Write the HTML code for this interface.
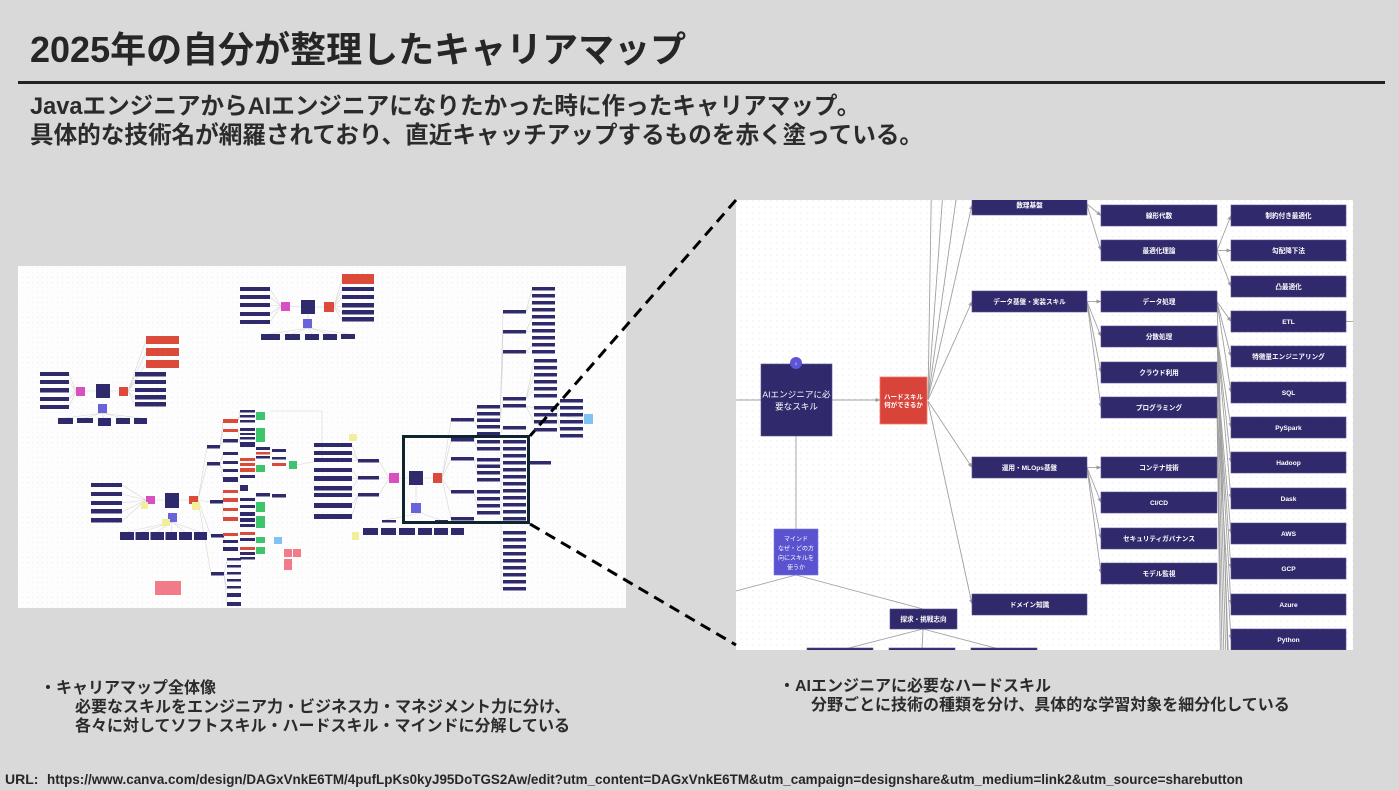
<!DOCTYPE html>
<html><head><meta charset="utf-8">
<style>
html,body{margin:0;padding:0;}
body{width:1399px;height:790px;background:#d9d9d9;position:relative;overflow:hidden;font-family:"Liberation Sans","Noto Sans CJK JP",sans-serif;color:#262626;}
.t{position:absolute;white-space:nowrap;font-weight:bold;}
svg{position:absolute;left:0;top:0;}
</style></head><body>
<svg width="1399" height="790" viewBox="0 0 1399 790" xmlns="http://www.w3.org/2000/svg">
<defs>
<pattern id="dots" width="6" height="6" patternUnits="userSpaceOnUse"><circle cx="3" cy="3" r="0.6" fill="#e3e3e3"/></pattern>
<pattern id="dots2" width="5" height="5" patternUnits="userSpaceOnUse"><circle cx="2.5" cy="2.5" r="0.5" fill="#ececec"/></pattern>
<clipPath id="rp"><rect x="736" y="200" width="617" height="450"/></clipPath>
<marker id="ar" markerWidth="5" markerHeight="5" refX="4.5" refY="2.5" orient="auto" markerUnits="userSpaceOnUse"><path d="M0,0.5 L5,2.5 L0,4.5 z" fill="#9a9a9a"/></marker>
</defs>

<!-- mini map panel -->
<rect x="18" y="266" width="608" height="342" fill="#fdfdfd"/>
<rect x="18" y="266" width="608" height="342" fill="url(#dots2)"/>
<g stroke="#d6d6d6" stroke-width="0.6" fill="none">
<path d="M281,306 L270,289 M281,306 L270,297 M281,306 L270,305 M281,306 L270,314 M281,306 L270,322 M290,306 L301,307 M315,307 L324,307 M334,307 L342,279 M334,307 L342,289 M334,307 L342,297 M334,307 L342,306 M334,307 L342,313 M334,307 L342,320 M308,314 L308,319 M308,328 L270,334 M308,328 L292,334 M308,328 L312,334 M308,328 L330,334 M308,328 L348,334"/>
<path d="M76,391 L69,374 M76,391 L69,382 M76,391 L69,391 M76,391 L69,399 M76,391 L69,407 M85,391 L96,391 M110,391 L119,391 M128,391 L146,340 M128,391 L146,352 M128,391 L146,364 M128,391 L135,375 M128,391 L135,382 M128,391 L135,390 M128,391 L135,398 M128,391 L135,405 M102,413 L65,418 M102,413 L85,418 M102,413 L104,418 M102,413 L123,418 M102,413 L140,418"/>
<path d="M146,500 L122,485 M146,500 L122,494 M146,500 L122,503 M146,500 L122,512 M146,500 L122,521 M155,500 L165,500 M179,500 L189,500 M198,500 L207,447 M198,500 L207,464 M198,500 L210,502 M198,500 L211,536 M198,500 L211,574 M172,522 L127,532 M172,522 L142,532 M172,522 L157,532 M172,522 L171,532 M172,522 L185,532 M172,522 L200,532"/>
<path d="M220,447 L223,421 M220,447 L223,431 M220,447 L223,441 M220,464 L223,454 M220,464 L223,463 M220,464 L223,471 M220,464 L223,480 M223,502 L223,492 M223,502 L223,500 M223,502 L223,510 M223,502 L223,519 M224,536 L224,542 M224,536 L224,549 M224,574 L227,560 M224,574 L227,575 M224,574 L227,590 M224,574 L227,604 M238,421 L240,411 M238,421 L240,416 M238,431 L240,430 M238,431 L240,444 M270,411 L322,411 L322,460 L297,465"/>
<path d="M389,478 L379,461 M389,478 L379,478 M389,478 L379,495 M358,461 L352,445 M358,461 L352,453 M358,461 L352,460 M358,478 L352,470 M358,478 L352,479 M358,478 L352,489 M358,495 L352,495 M358,495 L352,505 M358,495 L352,516 M399,478 L409,478 M423,478 L433,478 M442,478 L451,420 M442,478 L451,440 M442,478 L451,459 M442,478 L451,492 M442,478 L451,519 M416,485 L416,503 M421,513 L385,520 M421,513 L440,520 M474,420 L477,407 M474,420 L477,427 M474,440 L477,434 M474,440 L477,449 M474,459 L477,460 M474,459 L477,473 M474,492 L477,492 M474,492 L477,506 M500,420 L503,312 M500,420 L503,332 M500,420 L503,352 M500,420 L503,399 M500,434 L503,428 M501,440 L501,590 M526,312 L532,289 M526,312 L532,303 M526,332 L532,317 M526,332 L532,331 M526,352 L532,345 M526,352 L532,352 M526,399 L534,361 M526,399 L534,375 M526,399 L534,389 M526,406 L534,408 M526,406 L534,422 M557,415 L560,401 M557,415 L560,415 M557,415 L560,429 M557,415 L584,419"/>
</g>
<g fill="#2f2a6c">
<rect x="240" y="287" width="30" height="4"/><rect x="240" y="295" width="30" height="4"/><rect x="240" y="303" width="30" height="4"/><rect x="240" y="312" width="30" height="4"/><rect x="240" y="320" width="30" height="4"/>
<rect x="301" y="300" width="14" height="14"/>
<rect x="261" y="334" width="19" height="6"/><rect x="285" y="334" width="15" height="6"/><rect x="305" y="334" width="14" height="6"/><rect x="323" y="334" width="14" height="6"/><rect x="341" y="334" width="14" height="5"/>
<rect x="342" y="287" width="32" height="4"/><rect x="342" y="295" width="32" height="4"/><rect x="342" y="303" width="32" height="4.5"/><rect x="342" y="310" width="32" height="4.5"/><rect x="342" y="317" width="32" height="4.5"/>
<rect x="40" y="372" width="29" height="4"/><rect x="40" y="380" width="29" height="4"/><rect x="40" y="388" width="29" height="4.5"/><rect x="40" y="397" width="29" height="4"/><rect x="40" y="405" width="29" height="4"/>
<rect x="96" y="384" width="14" height="14"/>
<rect x="58" y="418" width="15" height="6"/><rect x="77" y="418" width="16" height="5"/><rect x="98" y="418" width="13" height="8"/><rect x="116" y="418" width="14" height="6"/><rect x="134" y="418" width="13" height="6"/>
<rect x="135" y="372" width="31" height="4.5"/><rect x="135" y="380" width="31" height="4"/><rect x="135" y="388" width="31" height="4"/><rect x="135" y="395" width="31" height="4.5"/><rect x="135" y="402" width="31" height="4.5"/>
<rect x="91" y="483" width="31" height="4"/><rect x="91" y="492" width="31" height="4"/><rect x="91" y="501" width="31" height="4"/><rect x="91" y="509" width="31" height="4.5"/><rect x="91" y="518" width="31" height="4.5"/>
<rect x="165" y="493" width="14" height="15"/>
<rect x="120" y="532" width="14" height="8"/><rect x="135.5" y="532" width="13.5" height="8"/><rect x="150.5" y="532" width="13.5" height="8"/><rect x="165.5" y="532" width="11.5" height="8"/><rect x="179" y="532" width="13" height="8"/><rect x="194" y="532" width="13" height="8"/>
<rect x="207" y="445" width="13" height="3.5"/><rect x="207" y="462" width="13" height="3.5"/><rect x="210" y="500" width="13" height="3.5"/><rect x="211" y="534" width="13" height="3.5"/><rect x="211" y="572" width="13" height="3.5"/>
<rect x="223" y="439" width="15" height="3.5"/><rect x="223" y="452" width="15" height="3"/><rect x="223" y="461" width="15" height="3"/><rect x="223" y="469" width="15" height="3"/><rect x="223" y="477" width="15" height="5"/><rect x="223" y="540" width="15" height="3"/><rect x="223" y="547" width="15" height="4"/>
<rect x="240" y="410" width="15" height="2.5"/><rect x="240" y="415" width="15" height="2.5"/><rect x="240" y="420" width="15" height="2.5"/><rect x="240" y="428" width="15" height="3"/><rect x="240" y="433" width="15" height="2"/><rect x="240" y="437" width="15" height="2.5"/><rect x="240" y="442" width="15" height="5"/><rect x="240" y="475" width="15" height="3"/><rect x="240" y="485" width="8" height="6"/><rect x="240" y="498" width="15" height="3"/><rect x="240" y="505" width="15" height="3"/><rect x="240" y="512" width="15" height="4"/><rect x="240" y="518" width="15" height="4"/><rect x="240" y="524" width="15" height="3"/><rect x="240" y="538" width="15" height="3"/><rect x="240" y="552" width="15" height="3"/><rect x="240" y="557" width="15" height="2.5"/>
<rect x="256" y="447" width="14" height="3"/><rect x="256" y="456" width="14" height="2.5"/><rect x="256" y="493" width="14" height="3.5"/>
<rect x="272" y="449" width="14" height="3"/><rect x="272" y="457" width="14" height="2.5"/><rect x="272" y="494" width="14" height="3.5"/>
<rect x="227" y="558" width="14" height="2.5"/><rect x="227" y="565" width="14" height="2.5"/><rect x="227" y="572" width="14" height="2.5"/><rect x="227" y="579" width="14" height="2.5"/><rect x="227" y="586" width="14" height="2.5"/><rect x="227" y="593" width="14" height="4"/><rect x="227" y="602" width="14" height="4"/>
<rect x="314" y="443" width="38" height="4"/><rect x="314" y="451" width="38" height="4"/><rect x="314" y="458" width="38" height="4"/><rect x="314" y="468" width="38" height="4"/><rect x="314" y="476" width="38" height="5"/><rect x="314" y="486" width="38" height="4.5"/><rect x="314" y="493" width="38" height="4"/><rect x="314" y="503" width="38" height="5"/><rect x="314" y="514" width="38" height="5"/>
<rect x="358" y="459" width="21" height="3.5"/><rect x="358" y="476" width="21" height="3.5"/><rect x="358" y="493" width="21" height="3.5"/>
<rect x="382" y="520" width="14" height="2.5"/><rect x="435" y="520" width="13" height="2.5"/>
<rect x="363" y="528" width="15" height="7"/><rect x="381" y="528" width="15" height="7"/><rect x="399" y="528" width="16" height="7"/><rect x="418" y="528" width="14" height="7"/><rect x="434" y="528" width="14" height="7"/><rect x="451" y="528" width="13" height="7"/>
<rect x="409" y="471" width="14" height="14"/>
<rect x="451" y="418" width="23" height="3.5"/><rect x="451" y="438" width="23" height="3.5"/><rect x="451" y="457" width="23" height="3.5"/><rect x="451" y="490" width="23" height="3.5"/><rect x="451" y="517" width="23" height="3.5"/>
<rect x="477" y="405" width="23" height="3.5"/><rect x="477" y="412" width="23" height="3.5"/><rect x="477" y="418.5" width="23" height="3.5"/><rect x="477" y="425" width="23" height="3.5"/><rect x="477" y="432" width="23" height="3.5"/><rect x="477" y="440" width="23" height="3.5"/><rect x="477" y="447" width="23" height="3.5"/><rect x="477" y="458" width="23" height="3.5"/><rect x="477" y="464.5" width="23" height="3.5"/><rect x="477" y="471" width="23" height="3.5"/><rect x="477" y="478" width="23" height="3.5"/><rect x="477" y="490" width="23" height="3.5"/><rect x="477" y="497" width="23" height="3.5"/><rect x="477" y="504" width="23" height="3.5"/><rect x="477" y="511" width="23" height="3.5"/>
<rect x="503" y="310" width="23" height="3.5"/><rect x="503" y="330" width="23" height="3.5"/><rect x="503" y="350" width="23" height="3.5"/><rect x="503" y="397" width="23" height="3.5"/><rect x="503" y="404" width="23" height="3.5"/><rect x="503" y="426" width="23" height="3.5"/><rect x="503" y="440" width="23" height="3.5"/><rect x="503" y="447" width="23" height="3.5"/><rect x="503" y="454" width="23" height="3.5"/><rect x="503" y="461" width="23" height="3.5"/><rect x="503" y="468" width="23" height="3.5"/><rect x="503" y="475" width="23" height="3.5"/><rect x="503" y="482" width="23" height="3.5"/><rect x="503" y="489" width="23" height="3.5"/><rect x="503" y="496" width="23" height="3.5"/><rect x="503" y="503" width="23" height="3.5"/><rect x="503" y="510" width="23" height="3.5"/><rect x="503" y="517" width="23" height="3.5"/><rect x="503" y="531" width="23" height="3.5"/><rect x="503" y="538" width="23" height="3.5"/><rect x="503" y="545" width="23" height="3.5"/><rect x="503" y="552" width="23" height="3.5"/><rect x="503" y="559" width="23" height="3.5"/><rect x="503" y="566" width="23" height="3.5"/><rect x="503" y="573" width="23" height="3.5"/><rect x="503" y="580" width="23" height="3.5"/><rect x="503" y="587" width="23" height="3.5"/>
<rect x="532" y="287" width="23" height="3.5"/><rect x="532" y="294" width="23" height="3.5"/><rect x="532" y="301" width="23" height="3.5"/><rect x="532" y="308" width="23" height="3.5"/><rect x="532" y="315" width="23" height="3.5"/><rect x="532" y="322" width="23" height="3.5"/><rect x="532" y="329" width="23" height="3.5"/><rect x="532" y="336" width="23" height="3.5"/><rect x="532" y="343" width="23" height="3.5"/><rect x="532" y="350" width="23" height="3.5"/>
<rect x="534" y="359" width="23" height="3.5"/><rect x="534" y="366" width="23" height="3.5"/><rect x="534" y="373" width="23" height="3.5"/><rect x="534" y="380" width="23" height="3.5"/><rect x="534" y="387" width="23" height="3.5"/><rect x="534" y="394" width="23" height="3.5"/>
<rect x="534" y="406" width="23" height="3.5"/><rect x="534" y="413" width="23" height="3.5"/><rect x="534" y="420" width="23" height="3.5"/><rect x="534" y="428" width="23" height="3.5"/>
<rect x="560" y="399" width="23" height="3.5"/><rect x="560" y="406" width="23" height="3.5"/><rect x="560" y="413" width="23" height="3.5"/><rect x="560" y="420" width="23" height="3.5"/><rect x="560" y="427" width="23" height="3.5"/><rect x="560" y="434" width="23" height="3.5"/>
<rect x="529" y="461" width="22" height="3.5"/>
</g>
<g fill="#dc4a3a">
<rect x="324" y="302" width="10" height="10"/><rect x="342" y="274" width="32" height="10"/>
<rect x="119" y="387" width="9" height="9"/><rect x="146" y="336" width="33" height="8"/><rect x="146" y="348" width="33" height="8"/><rect x="146" y="360" width="33" height="8"/>
<rect x="189" y="496" width="9" height="8"/>
<rect x="223" y="419" width="15" height="4"/><rect x="223" y="429" width="15" height="3"/><rect x="223" y="490" width="15" height="3"/><rect x="223" y="498" width="15" height="4"/><rect x="223" y="508" width="15" height="3"/><rect x="223" y="517" width="15" height="4"/><rect x="223" y="533" width="15" height="3"/>
<rect x="240" y="458" width="15" height="3"/><rect x="240" y="463" width="15" height="3"/><rect x="240" y="468" width="15" height="4"/><rect x="240" y="532" width="15" height="3"/><rect x="240" y="547" width="15" height="3"/>
<rect x="256" y="452" width="14" height="2.5"/><rect x="272" y="463" width="14" height="3"/>
<rect x="433" y="473" width="9" height="10"/>
</g>
<g fill="#d94fc0"><rect x="281" y="302" width="9" height="9"/><rect x="76" y="387" width="9" height="9"/><rect x="146" y="496" width="9" height="8"/><rect x="389" y="473" width="10" height="10"/></g>
<g fill="#6a62d8"><rect x="303" y="319" width="9" height="9"/><rect x="98" y="404" width="9" height="9"/><rect x="168" y="513" width="9" height="9"/><rect x="411" y="503" width="10" height="10"/></g>
<g fill="#f3ee9a"><rect x="141" y="502" width="7" height="7"/><rect x="162" y="519" width="8" height="7"/><rect x="192" y="502" width="8" height="8"/><rect x="349" y="434" width="8" height="7"/><rect x="352" y="532" width="7" height="8"/></g>
<g fill="#3fc46e"><rect x="256" y="412" width="9" height="8"/><rect x="256" y="428" width="9" height="14"/><rect x="256" y="465" width="9" height="7"/><rect x="256" y="502" width="9" height="10"/><rect x="256" y="516" width="9" height="12"/><rect x="256" y="537" width="9" height="6"/><rect x="256" y="547" width="9" height="7"/><rect x="289" y="461" width="8" height="8"/></g>
<g fill="#f27b8a"><rect x="284" y="549" width="8" height="8"/><rect x="293" y="549" width="8" height="8"/><rect x="284" y="559" width="8" height="11"/><rect x="155" y="581" width="26" height="14"/></g>
<g fill="#7fc2f3"><rect x="274" y="537" width="8" height="7"/><rect x="584" y="414" width="9" height="10"/></g>
<rect x="403.5" y="436.5" width="125" height="86" fill="none" stroke="#0e2530" stroke-width="3"/>

<!-- right panel -->
<rect x="736" y="200" width="617" height="450" fill="#ffffff"/>
<rect x="736" y="200" width="617" height="450" fill="url(#dots)"/>
<g clip-path="url(#rp)">
<g stroke="#a0a0a0" stroke-width="0.9" fill="none">
<path d="M736,400 L761,400"/>
<path d="M832,400 L880,400" marker-end="url(#ar)"/>
<path d="M928,399 L932,150 M928,399 L946,150 M928,399 L963,150"/>
<path d="M928,399 L972,205" marker-end="url(#ar)"/>
<path d="M928,400 L972,301.5" marker-end="url(#ar)"/>
<path d="M928,401 L972,467.5" marker-end="url(#ar)"/>
<path d="M928,402 L972,604" marker-end="url(#ar)"/>
<path d="M1087,204 L1101,215.5" marker-end="url(#ar)"/><path d="M1087,205 L1101,250.5" marker-end="url(#ar)"/>
<path d="M1087,301.5 L1101,301.5" marker-end="url(#ar)"/><path d="M1087,301.5 L1101,336.5" marker-end="url(#ar)"/><path d="M1087,301.5 L1101,372.5" marker-end="url(#ar)"/><path d="M1087,301.5 L1101,407.5" marker-end="url(#ar)"/>
<path d="M1087,467.5 L1101,467.5" marker-end="url(#ar)"/><path d="M1087,467.5 L1101,502.5" marker-end="url(#ar)"/><path d="M1087,467.5 L1101,538.5" marker-end="url(#ar)"/><path d="M1087,467.5 L1101,573.5" marker-end="url(#ar)"/>
<path d="M1217,250.5 L1231,215.5" marker-end="url(#ar)"/><path d="M1217,250.5 L1231,250.5" marker-end="url(#ar)"/><path d="M1217,250.5 L1231,286.5" marker-end="url(#ar)"/>
<path d="M1217,301.5 L1231,321.5" marker-end="url(#ar)"/><path d="M1217,301.5 L1231,356.5" marker-end="url(#ar)"/><path d="M1217,301.5 L1231,392.5" marker-end="url(#ar)"/>
<path d="M1217,336.5 L1231,427.5" marker-end="url(#ar)"/><path d="M1217,336.5 L1231,462.5" marker-end="url(#ar)"/><path d="M1217,336.5 L1231,498.5" marker-end="url(#ar)"/>
<path d="M1217,372.5 L1231,533.5" marker-end="url(#ar)"/><path d="M1217,372.5 L1231,568.5" marker-end="url(#ar)"/><path d="M1217,372.5 L1231,604.5" marker-end="url(#ar)"/>
<path d="M1217,407.5 L1231,639.5" marker-end="url(#ar)"/>
<path d="M1217,301.5 L1229,700 M1217,336.5 L1227,700 M1217,372.5 L1225,700 M1217,407.5 L1223,700 M1217,407.5 L1221,700 M1217,336.5 L1230,700"/>
<path d="M1346,321.5 L1353,321.5"/>
<path d="M796,436 L796,529"/>
<path d="M796,575 L736,591"/>
<path d="M796,575 L923,609"/>
<path d="M923,629 L841,650 M923,629 L922,650 M923,629 L1003,650"/>
</g>
<g fill="#302a6c" stroke="#57508f" stroke-width="0.6">
<rect x="972" y="194" width="115" height="21"/>
<rect x="972" y="291" width="115" height="21"/>
<rect x="972" y="457" width="115" height="21"/>
<rect x="972" y="594" width="115" height="21"/>
<rect x="1101" y="205" width="116" height="21"/><rect x="1101" y="240" width="116" height="21"/><rect x="1101" y="291" width="116" height="21"/><rect x="1101" y="326" width="116" height="21"/><rect x="1101" y="362" width="116" height="21"/><rect x="1101" y="397" width="116" height="21"/><rect x="1101" y="457" width="116" height="21"/><rect x="1101" y="492" width="116" height="21"/><rect x="1101" y="528" width="116" height="21"/><rect x="1101" y="563" width="116" height="21"/>
<rect x="1231" y="205" width="115" height="21"/><rect x="1231" y="240" width="115" height="21"/><rect x="1231" y="276" width="115" height="21"/><rect x="1231" y="311" width="115" height="21"/><rect x="1231" y="346" width="115" height="21"/><rect x="1231" y="382" width="115" height="21"/><rect x="1231" y="417" width="115" height="21"/><rect x="1231" y="452" width="115" height="21"/><rect x="1231" y="488" width="115" height="21"/><rect x="1231" y="523" width="115" height="21"/><rect x="1231" y="558" width="115" height="21"/><rect x="1231" y="594" width="115" height="21"/><rect x="1231" y="629" width="115" height="21"/>
<rect x="761" y="364" width="71" height="72"/>
<rect x="890" y="609" width="67" height="20"/>
<rect x="807" y="648" width="66" height="12"/><rect x="889" y="648" width="66" height="12"/><rect x="971" y="648" width="66" height="12"/>
</g>
<rect x="880" y="377" width="47" height="47" fill="#d9443a" stroke="#f07a6a" stroke-width="0.8"/>
<rect x="774" y="529" width="44" height="46" fill="#5b52cf" stroke="#7c75e0" stroke-width="0.6"/>
<circle cx="796" cy="363" r="6" fill="#5d55d8"/>
<text x="796" y="365" font-size="4" fill="#fff" text-anchor="middle" font-family="Liberation Sans,sans-serif">1</text>
<g fill="#ffffff" font-family="Liberation Sans,Noto Sans CJK JP,sans-serif" font-weight="bold" font-size="6.6" text-anchor="middle">
<text x="1029.5" y="207.5">数理基盤</text>
<text x="1029.5" y="304">データ基盤・実装スキル</text>
<text x="1029.5" y="470">運用・MLOps基盤</text>
<text x="1029.5" y="607">ドメイン知識</text>
<text x="1159" y="218">線形代数</text><text x="1159" y="253">最適化理論</text><text x="1159" y="304">データ処理</text><text x="1159" y="339">分散処理</text><text x="1159" y="375">クラウド利用</text><text x="1159" y="410">プログラミング</text><text x="1159" y="470">コンテナ技術</text><text x="1159" y="505">CI/CD</text><text x="1159" y="541">セキュリティガバナンス</text><text x="1159" y="576">モデル監視</text>
<text x="1288.5" y="218">制約付き最適化</text><text x="1288.5" y="253">勾配降下法</text><text x="1288.5" y="289">凸最適化</text><text x="1288.5" y="324">ETL</text><text x="1288.5" y="359">特徴量エンジニアリング</text><text x="1288.5" y="395">SQL</text><text x="1288.5" y="430">PySpark</text><text x="1288.5" y="465">Hadoop</text><text x="1288.5" y="501">Dask</text><text x="1288.5" y="536">AWS</text><text x="1288.5" y="571">GCP</text><text x="1288.5" y="607">Azure</text><text x="1288.5" y="642">Python</text>
<text x="923.5" y="621.5">探求・挑戦志向</text>
<text x="903.5" y="399" font-size="6.5">ハードスキル</text>
<text x="903.5" y="407" font-size="6.5">何ができるか</text>
<text x="796.5" y="397.5" font-size="8.6" font-weight="normal">AIエンジニアに必</text>
<text x="796.5" y="409.5" font-size="8.6" font-weight="normal">要なスキル</text>
<text x="796" y="541" font-size="6" font-weight="normal">マインド</text>
<text x="796" y="550.5" font-size="6" font-weight="normal">なぜ・どの方</text>
<text x="796" y="560" font-size="6" font-weight="normal">向にスキルを</text>
<text x="796" y="569.5" font-size="6" font-weight="normal">使うか</text>
</g>
</g>

<!-- dashed connector lines -->
<g stroke="#000" stroke-width="3" stroke-dasharray="11 7" fill="none">
<path d="M736,200 L530,436"/>
<path d="M530,524 L736,645"/>
</g>

<rect x="18" y="81" width="1367" height="3" fill="#222"/>
<text x="5" y="784" font-family="Liberation Sans,sans-serif" font-size="14" font-weight="bold" fill="#262626">URL:</text>
<text x="47" y="784" font-family="Liberation Sans,sans-serif" font-size="14" font-weight="bold" fill="#262626" textLength="1196" lengthAdjust="spacingAndGlyphs">https://www.canva.com/design/DAGxVnkE6TM/4pufLpKs0kyJ95DoTGS2Aw/edit?utm_content=DAGxVnkE6TM&amp;utm_campaign=designshare&amp;utm_medium=link2&amp;utm_source=sharebutton</text>
</svg>

<div class="t" style="left:30px;top:28px;font-size:36px;line-height:44px;color:#262626;">2025年の自分が整理したキャリアマップ</div>
<div class="t" style="left:30px;top:93px;font-size:23.6px;line-height:29px;color:#2b2b2b;">JavaエンジニアからAIエンジニアになりたかった時に作ったキャリアマップ。<br>具体的な技術名が網羅されており、直近キャッチアップするものを赤く塗っている。</div>

<div class="t" style="left:40px;top:679px;font-size:16px;line-height:19px;color:#2b2b2b;">・キャリアマップ全体像</div>
<div class="t" style="left:75px;top:698px;font-size:16px;line-height:19px;color:#2b2b2b;">必要なスキルをエンジニア力・ビジネス力・マネジメント力に分け、<br>各々に対してソフトスキル・ハードスキル・マインドに分解している</div>

<div class="t" style="left:779px;top:678px;font-size:16px;line-height:18.5px;color:#2b2b2b;">・AIエンジニアに必要なハードスキル</div>
<div class="t" style="left:811px;top:696.5px;font-size:16px;line-height:18.5px;color:#2b2b2b;">分野ごとに技術の種類を分け、具体的な学習対象を細分化している</div>
</body></html>
